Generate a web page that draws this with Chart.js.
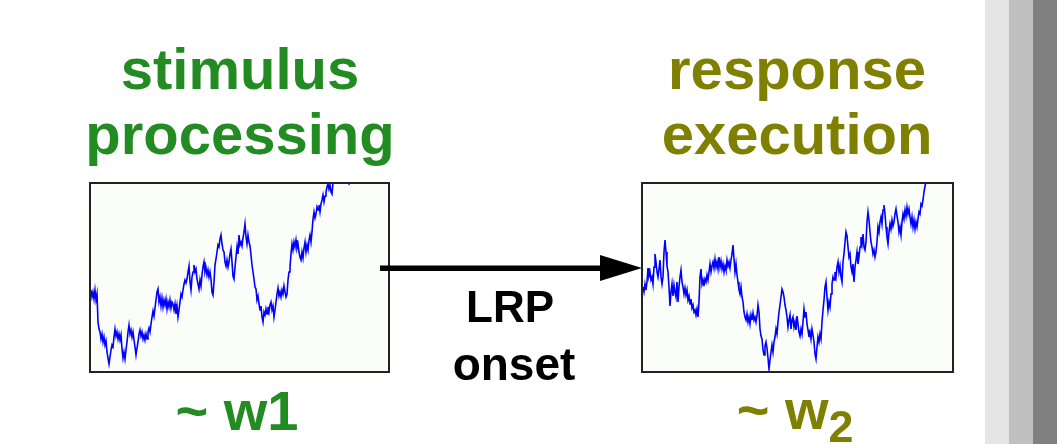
<!DOCTYPE html>
<html>
<head>
<meta charset="utf-8">
<script src="https://cdn.jsdelivr.net/npm/chart.js@4"></script>
<style>
  html, body { margin: 0; padding: 0; background: #ffffff; }
  body { width: 1057px; height: 444px; position: relative; overflow: hidden;
         font-family: "Liberation Sans", Arial, sans-serif; font-weight: bold; }
  .t { position: absolute; white-space: nowrap; text-align: center; line-height: 1; }
  .green { color: #228B22; }
  .olive { color: #808000; }
  .black { color: #000000; }
  .box { position: absolute; box-sizing: border-box; border: 2px solid #222;
         background: #fbfdf9; }
  .box canvas { display: block; }
  .bar { position: absolute; top: 0; height: 444px; width: 24px; }
  sub { font-size: 0.8em; vertical-align: -0.3em; line-height: 0; }
</style>
</head>
<body>

<div class="bar" style="left:985px;background:#e5e5e5"></div>
<div class="bar" style="left:1009px;background:#c0c0c0"></div>
<div class="bar" style="left:1033px;background:#808080;width:24px"></div>

<div class="t green" style="left:40px;width:400px;top:40px;font-size:58px">stimulus</div>
<div class="t green" style="left:40px;width:400px;top:105px;font-size:58px">processing</div>
<div class="t olive" style="left:597px;width:400px;top:40px;font-size:58px">response</div>
<div class="t olive" style="left:597px;width:400px;top:105px;font-size:58px">execution</div>

<div class="box" style="left:89px;top:182px;width:301px;height:191px"><canvas id="c1" width="297" height="187"></canvas></div>
<div class="box" style="left:641px;top:182px;width:313px;height:191px"><canvas id="c2" width="309" height="187"></canvas></div>

<svg style="position:absolute;left:0;top:0" width="1057" height="444">
  <rect x="380" y="265.5" width="224" height="5.5" fill="#000"/>
  <polygon points="600,255 642,268 600,281" fill="#000"/>
</svg>

<div class="t black" style="left:410px;width:200px;top:285px;font-size:44px">LRP</div>
<div class="t black" style="left:414px;width:200px;top:341px;font-size:46px">onset</div>

<div class="t green" style="left:87px;width:300px;top:383px;font-size:56px">~ w1</div>
<div class="t olive" style="left:645px;width:300px;top:382px;font-size:56px">~ w<sub>2</sub></div>

<script>
// Left panel: stimulus processing trace (time index, amplitude)
const leftT = [1,2,3,4,5,6,7,8,9,10,11,12,13,14,15,16,17,18,19,20,
  21,22,23,24,25,26,27,28,29,30,31,32,33,34,35,36,37,38,39,40,
  41,42,43,44,45,46,47,48,49,50,51,52,53,54,55,56,57,58,59,60,
  61,62,63,64,65,66,67,68,69,70,71,72,73,74,75,76,77,78,79,80,
  81,82,83,84,85,86,87,88,89,90,91,92,93,94,95,96,97,98,99,100,
  101,102,103,104,105,106,107,108,109,110,111,112,113,114,115,116,117,118,119,120,
  121,122,123,124,125,126,127,128,129,130,131,132,133,134,135,136,137,138,139,140,
  141,142,143,144,145,146,147,148,149,150,151,152,153,154,155,156,157,158,159,160,
  161,162,163,164,165,166,167,168,169,170,171,172,173,174,175,176,177,178,179,180,
  181,182,183,184,185,186,187,188,189,190,191,192,193,194,195,196,197,198,199,200,
  201,202,203,204,205,206,207,208,209,210,211,212,213,214,215,216,217,218,219,220,
  221,222,223,224,225,226,227,228,229,230,231,232,233,234,235,236,237,238,239,240,
  241,242,243,244,245,250,255,259,262,270,280,298];
const leftV = [82,75,80,73,82,72,78,50,43,40,33,38,30,35,27,31,20,14,8,15,
  22,27,25,35,43,36,40,33,38,32,37,23,14,20,13,22,30,40,47,38,
  42,35,40,32,25,17,24,30,38,42,36,40,33,37,32,38,33,40,44,40,
  48,55,61,56,64,72,80,83,70,75,66,74,65,72,67,73,63,70,65,72,
  64,70,68,62,68,58,66,55,62,70,78,75,82,88,92,89,93,100,106,90,
  82,95,100,107,100,103,93,88,83,92,86,97,105,110,100,104,97,102,95,100,
  93,80,77,90,107,113,120,127,125,133,137,128,122,120,110,106,112,105,110,118,
  123,110,96,93,105,115,125,118,137,127,130,126,134,140,148,135,128,137,130,126,
  117,107,100,93,85,83,72,76,68,62,66,55,50,60,57,63,58,65,60,67,
  70,62,66,55,62,70,78,84,76,80,75,82,78,86,80,75,78,92,100,105,
  118,128,122,130,125,132,124,128,120,115,112,120,114,124,130,120,127,122,132,137,
  130,140,153,160,154,158,165,162,167,160,168,172,177,170,176,180,185,188,183,187,
  180,178,190,196,195,197,192,188,200,215,225,240];

// Right panel: response execution trace (time index, amplitude)
const rightT = [1,2,3,4,5,6,7,8,9,10,11,12,13,14,15,16,17,18,19,20,
  21,22,23,24,25,26,27,28,29,30,31,32,33,34,35,36,37,38,39,40,
  41,42,43,44,45,46,47,48,49,50,51,52,53,54,55,56,57,58,59,60,
  61,62,63,64,65,66,67,68,69,70,71,72,73,74,75,76,77,78,79,80,
  81,82,83,84,85,86,87,88,89,90,91,92,93,94,95,96,97,98,99,100,
  101,102,103,104,105,106,107,108,109,110,111,112,113,114,115,116,117,118,119,120,
  121,122,123,124,125,126,127,128,129,130,131,132,133,134,135,136,137,138,139,140,
  141,142,143,144,145,146,147,148,149,150,151,152,153,154,155,156,157,158,159,160,
  161,162,163,164,165,166,167,168,169,170,171,172,173,174,175,176,177,178,179,180,
  181,182,183,184,185,186,187,188,189,190,191,192,193,194,195,196,197,198,199,200,
  201,202,203,204,205,206,207,208,209,210,211,212,213,214,215,216,217,218,219,220,
  221,222,223,224,225,226,227,228,229,230,231,232,233,234,235,236,237,238,239,240,
  241,242,243,244,245,246,247,248,249,250,251,252,253,254,255,256,257,258,259,260,
  261,262,263,264,265,266,267,268,269,270,271,272,273,274,275,276,277,278,279,280,
  281,282,283,284,285,290,310];
const rightV = [85,80,88,82,90,104,96,100,92,95,88,105,118,110,100,95,103,112,95,88,
  95,120,132,120,106,100,85,66,80,88,76,87,80,75,90,70,85,95,102,90,
  85,78,84,77,82,72,76,68,73,64,67,60,62,57,63,55,70,95,103,88,
  92,86,93,90,97,92,100,108,100,106,110,104,113,105,110,103,115,105,111,103,
  108,100,106,102,112,106,110,104,112,118,127,113,100,108,97,90,82,78,85,75,
  70,60,55,52,58,50,55,48,57,52,59,52,55,50,56,67,60,43,36,33,
  22,17,26,30,24,14,3,12,20,27,20,30,35,43,38,50,60,67,75,83,
  80,75,67,62,55,45,52,57,43,52,55,45,50,42,56,48,40,36,43,38,
  50,63,55,60,48,42,35,40,33,43,37,30,18,13,25,35,30,38,33,50,
  62,72,85,90,75,62,70,65,78,88,95,92,100,95,105,110,100,106,95,90,
  110,118,130,140,136,125,115,118,105,100,108,90,105,112,120,108,115,125,135,128,
  138,125,122,130,150,160,152,140,130,125,118,122,115,120,130,145,140,150,155,148,
  162,167,158,145,135,128,140,148,143,152,146,150,158,163,156,150,140,145,137,150,
  158,153,162,156,165,158,163,155,148,155,145,152,143,150,145,153,160,158,168,166,
  172,180,186,190,200,210,230];

const yMin = 1, yMax = 188;

function trace(id, ts, vs, xMax) {
  const pts = ts.map((t, i) => ({ x: t, y: vs[i] }));
  new Chart(document.getElementById(id), {
    type: 'line',
    data: { datasets: [{ data: pts, borderColor: '#0000ff', borderWidth: 1.6,
      pointRadius: 0, tension: 0, fill: false }] },
    options: {
      responsive: false, animation: false,
      layout: { padding: 0 },
      plugins: { legend: { display: false }, tooltip: { enabled: false } },
      scales: {
        x: { type: 'linear', min: 1, max: xMax, display: false },
        y: { min: yMin, max: yMax, display: false }
      }
    }
  });
}
trace('c1', leftT, leftV, 298);
trace('c2', rightT, rightV, 310);
</script>
</body>
</html>
